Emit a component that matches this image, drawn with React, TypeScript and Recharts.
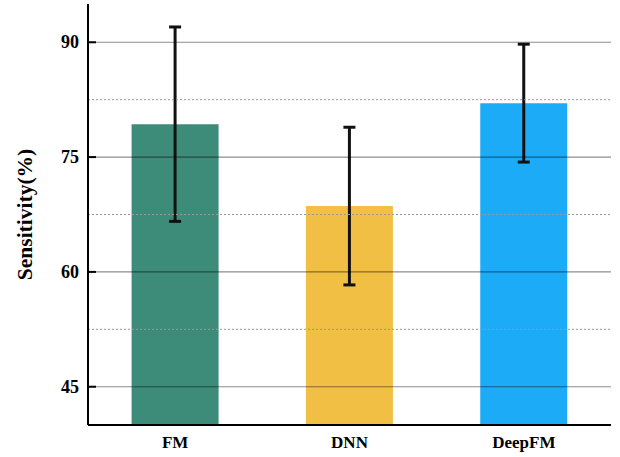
import { Bar, BarChart, Cell, ErrorBar, ReferenceLine, XAxis, YAxis } from "recharts";

const models = ["FM", "DNN", "DeepFM"];
const sensitivity = [79.3, 68.6, 82.05];
const errors = [12.7, 10.3, 7.7];
const colors = ["#3d8c7a", "#f0bf44", "#1babf7"];
const yTicks = [45, 60, 75, 90];
const minorLines = [52.5, 67.5, 82.5];

const data = models.map((name, i) => ({
  name,
  value: sensitivity[i],
  err: errors[i],
}));

const font = "'Liberation Serif', 'DejaVu Serif', serif";

const YTick = ({ x, y, payload }: any) => (
  <g>
    <line x1={x} x2={x + 8} y1={y} y2={y} stroke="#000" strokeWidth={2} />
    <text
      x={x - 9}
      y={y}
      textAnchor="end"
      dominantBaseline="central"
      style={{ fontFamily: font, fontWeight: 700, fontSize: 18 }}
      fill="#000"
    >
      {payload.value}
    </text>
  </g>
);

const XTick = ({ x, y, payload }: any) => (
  <text
    x={x}
    y={y + 23}
    textAnchor="middle"
    style={{ fontFamily: font, fontWeight: 700, fontSize: 17 }}
    fill="#000"
  >
    {payload.value}
  </text>
);

export default function App() {
  return (
    <div style={{ position: "absolute", left: 0, top: 0, background: "#fff" }}>
      <BarChart
        width={620}
        height={457}
        data={data}
        margin={{ top: 4, right: 9, left: 0, bottom: 0 }}
        barCategoryGap="25%"
      >
        <XAxis
          dataKey="name"
          height={32}
          axisLine={{ stroke: "#000", strokeWidth: 2 }}
          tickLine={false}
          tickSize={0}
          tickMargin={0}
          tick={<XTick />}
        />
        <YAxis
          domain={[40, 95]}
          ticks={yTicks}
          width={88}
          axisLine={{ stroke: "#000", strokeWidth: 2 }}
          tickLine={false}
          tickSize={0}
          tickMargin={0}
          tick={<YTick />}
          label={{
            value: "Sensitivity(%)",
            angle: -90,
            position: "insideLeft",
            offset: 24,
            style: {
              fontFamily: font,
              fontWeight: 700,
              fontSize: 21.5,
              fill: "#000",
              textAnchor: "middle",
            },
          }}
        />
        <Bar dataKey="value" isAnimationActive={false}>
          {data.map((d, i) => (
            <Cell key={d.name} fill={colors[i]} />
          ))}
          <ErrorBar dataKey="err" width={6} stroke="#111" strokeWidth={3} />
        </Bar>
        {yTicks.map((v) => (
          <ReferenceLine key={v} y={v} stroke="#000" strokeOpacity={0.45} strokeWidth={1.2} />
        ))}
        {minorLines.map((v) => (
          <ReferenceLine key={v} y={v} stroke="#999" strokeDasharray="2 2" strokeWidth={1} />
        ))}
      </BarChart>
    </div>
  );
}
